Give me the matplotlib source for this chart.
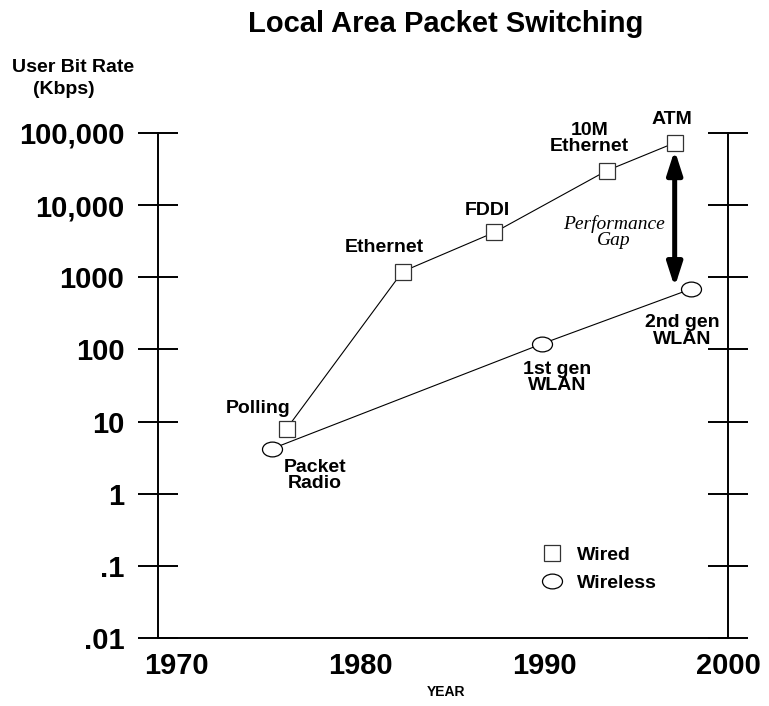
import numpy as np
import matplotlib.pyplot as plt
from matplotlib.path import Path
from matplotlib.transforms import Affine2D
from matplotlib.lines import Line2D
from matplotlib.ticker import NullLocator

plt.rcParams['font.family'] = ['Liberation Sans', 'DejaVu Sans']

# wired networks (square markers)
wired_years = [1976.0, 1982.3, 1987.3, 1993.4, 1997.1]
wired_rates = [8, 1200, 4200, 30000, 73000]
wired_names = ["Polling", "Ethernet", "FDDI", "10M\nEthernet", "ATM"]

# wireless networks (ellipse markers)
wireless_years = [1975.2, 1989.9, 1998.0]
wireless_rates = [4.2, 120, 690]
wireless_names = ["Packet\nRadio", "1st gen\nWLAN", "2nd gen\nWLAN"]

rate_ticks = [0.01, 0.1, 1, 10, 100, 1000, 10000, 100000]
rate_labels = [".01", ".1", "1", "10", "100", "1000", "10,000", "100,000"]
year_ticks = [1970, 1980, 1990, 2000]

# ends of the "performance gap" arrow
gap_year = 1997.1
gap_top, gap_bottom = 58000, 730

W, H = 769, 706
fig = plt.figure(figsize=(W / 100, H / 100), dpi=100)
ax = fig.add_axes([158 / W, (H - 638) / H, (728 - 158) / W, (638 - 133) / H])

ellipse = Path.unit_circle().transformed(Affine2D().scale(1, 0.74))

ax.plot(wired_years, wired_rates, color='black', lw=0.8, marker='s', ms=12.2,
        mfc='white', mec='#333333', mew=0.9)
ax.plot(wireless_years, wireless_rates, color='black', lw=0.8, marker=ellipse, ms=14.4,
        mfc='white', mec='black', mew=0.9)

ax.set_yscale('log')
ax.set_ylim(0.01, 1e5)
ax.set_xlim(1969, 1999.6)
ax.set_yticks(rate_ticks, rate_labels)
ax.yaxis.set_minor_locator(NullLocator())
ax.set_xticks(year_ticks, [str(y) for y in year_ticks])

ax.tick_params(axis='y', direction='inout', length=29.5, width=1.4,
               left=True, right=True, labelsize=21, pad=9.4)
ax.tick_params(axis='x', length=0, labelsize=21, pad=10)
for lab in ax.get_xticklabels() + ax.get_yticklabels():
    lab.set_fontweight('bold')
ax.spines['top'].set_visible(False)
for s in ['left', 'right', 'bottom']:
    ax.spines[s].set_linewidth(1.4)

# point labels (offsets in pixels from the marker)
wired_offsets = [(-29, 20), (-18, 24), (-7, 22), (-17, 32), (-3, 23)]
wireless_offsets = [(43, -27), (15, -34), (-9, -42)]
for x, y, name, off in zip(wired_years + wireless_years,
                           wired_rates + wireless_rates,
                           wired_names + wireless_names,
                           wired_offsets + wireless_offsets):
    ax.annotate(name, (x, y), xytext=off, textcoords='offset pixels',
                ha='center', va='center', fontsize=14, fontweight='bold',
                linespacing=0.95)

# performance gap arrow
ax.annotate('', xy=(gap_year, gap_bottom), xytext=(gap_year, gap_top),
            arrowprops=dict(arrowstyle='<|-|>,head_length=1.4,head_width=0.45',
                            mutation_scale=10, lw=3.6, color='black',
                            shrinkA=0, shrinkB=0))
ax.text(0.80, 0.804, "Performance\nGap", transform=ax.transAxes, ha='center', va='center',
        family='Liberation Serif', style='italic', fontsize=14, linespacing=0.95)

# legend
handles = [Line2D([], [], ls='none', marker='s', ms=11.5, mfc='white', mec='#333333', mew=0.9),
           Line2D([], [], ls='none', marker=ellipse, ms=14.4, mfc='white', mec='black', mew=0.9)]
leg = ax.legend(handles, ["Wired", "Wireless"], loc='center left',
                bbox_to_anchor=(0.671, 0.1366), frameon=False, borderpad=0,
                borderaxespad=0, handlelength=1.2, handletextpad=0.69,
                labelspacing=0.55, prop={'size': 14, 'weight': 'bold'})

fig.text(446 / W, 1 - 24 / H, "Local Area Packet Switching", ha='center', va='center',
         fontsize=21, fontweight='bold')
fig.text(73 / W, 1 - 68 / H, "User Bit Rate", ha='center', va='center',
         fontsize=14, fontweight='bold')
fig.text(63.5 / W, 1 - 89 / H, "(Kbps)", ha='center', va='center',
         fontsize=14, fontweight='bold')
fig.text(446 / W, 1 - 692 / H, "YEAR", ha='center', va='center',
         fontsize=10, fontweight='bold')

fig.savefig('out.png', dpi=100)
